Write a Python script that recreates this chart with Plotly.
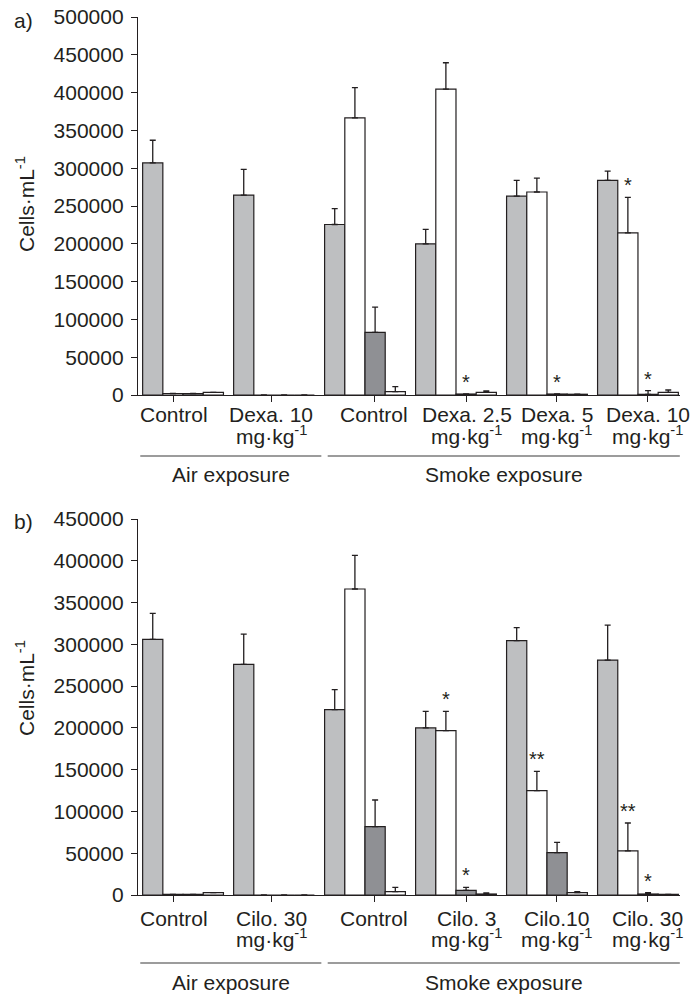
import plotly.graph_objects as go

# ---------------- data ----------------
groups_a = ["Control", "Dexa. 10", "Control", "Dexa. 2.5", "Dexa. 5", "Dexa. 10"]
groups_b = ["Control", "Cilo. 30", "Control", "Cilo. 3", "Cilo.10", "Cilo. 30"]
unit_line = ["", "mg·kg<sup>-1</sup>", "", "mg·kg<sup>-1</sup>", "mg·kg<sup>-1</sup>", "mg·kg<sup>-1</sup>"]
exposures = ["Air exposure", "Smoke exposure"]

series_names = ["Macrophages", "Neutrophils", "Lymphocytes", "Eosinophils"]
series_colors = ["#bebfc1", "#ffffff", "#8f9094", "#ffffff"]

# panel a (dexamethasone)
a_macro = [307000, 264500, 225500, 200000, 263000, 284000]
a_macro_err = [30000, 34000, 21000, 19000, 21000, 12000]
a_neut = [2000, 0, 366500, 404500, 268500, 214500]
a_neut_err = [0, 0, 40000, 35000, 18500, 47000]
a_lymph = [2000, 0, 82800, 1300, 1300, 900]
a_lymph_err = [0, 0, 33500, 0, 0, 4800]
a_eos = [3500, 0, 4400, 3500, 1000, 3500]
a_eos_err = [0, 0, 6600, 1800, 0, 3100]
a_neut_sig = ["", "", "", "", "", "*"]
a_lymph_sig = ["", "", "", "*", "*", "*"]

# panel b (cilomilast)
b_macro = [306000, 276000, 221800, 199900, 304400, 281200]
b_macro_err = [31000, 36300, 23900, 19900, 15500, 41900]
b_neut = [800, 0, 366200, 196700, 124900, 52700]
b_neut_err = [0, 0, 40300, 23100, 23100, 33500]
b_lymph = [800, 0, 81800, 5600, 50700, 1200]
b_lymph_err = [0, 0, 31900, 3600, 12300, 1600]
b_eos = [2800, 0, 4000, 1200, 2800, 800]
b_eos_err = [0, 0, 5200, 1200, 1200, 0]
b_neut_sig = ["", "", "", "*", "**", "**"]
b_lymph_sig = ["", "", "", "*", "", "*"]

y_max_a, y_step = 500000, 50000
y_max_b = 450000

# ---------------- layout helpers ----------------
W, H = 691, 995
INK = "#231f20"
FONT = "Liberation Sans, Arial, sans-serif"
FS = 21
MID = 0.35 * FS
BW = 0.222                      # bar width (x units)
label_shift = [-0.10, -0.03, 0.10, 0.12, 0.11, 0.11]
air_span = [-0.47, 1.52]
smoke_span = [1.59, 5.46]


def fy(p):
    return 1 - p / H


panels = [
    dict(groups=groups_a, vals=[a_macro, a_neut, a_lymph, a_eos],
         errs=[a_macro_err, a_neut_err, a_lymph_err, a_eos_err],
         sig={1: a_neut_sig, 2: a_lymph_sig}, ymax=y_max_a,
         line1=422, line2=442, sep=456, grp=482,
         title_y=204, tag="a)", tag_y=20.5),
    dict(groups=groups_b, vals=[b_macro, b_neut, b_lymph, b_eos],
         errs=[b_macro_err, b_neut_err, b_lymph_err, b_eos_err],
         sig={1: b_neut_sig, 2: b_lymph_sig}, ymax=y_max_b,
         line1=926, line2=945, sep=963, grp=990,
         title_y=688, tag="b)", tag_y=521),
]

fig = go.Figure()
annotations = []
shapes = []
tfont = dict(size=FS, color=INK, family=FONT)

for k, P in enumerate(panels):
    xa = "x" if k == 0 else "x2"
    ya = "y" if k == 0 else "y2"
    n = len(P["groups"])
    for i in range(4):
        xs = [g + (i - 1.5) * BW for g in range(n)]
        fig.add_trace(go.Bar(
            x=xs, y=P["vals"][i], width=BW, name=series_names[i],
            xaxis=xa, yaxis=ya, showlegend=False,
            marker=dict(color=series_colors[i], line=dict(color=INK, width=1.2)),
            error_y=dict(type="data", symmetric=False, array=P["errs"][i],
                         arrayminus=[0] * n, color=INK, thickness=1.3, width=3),
        ))
        if i in P["sig"]:
            for g in range(n):
                s = P["sig"][i][g]
                if s:
                    annotations.append(dict(
                        x=xs[g], y=P["vals"][i][g] + P["errs"][i][g],
                        xref=xa, yref=ya, text=s, showarrow=False,
                        yanchor="middle", yshift=12, borderpad=0,
                        font=dict(size=20, color=INK, family=FONT)))
    # category labels
    for g in range(n):
        xl = g + label_shift[g]
        annotations.append(dict(x=xl, y=fy(P["line1"] - MID), xref=xa, yref="paper",
                                text=P["groups"][g], showarrow=False, yanchor="middle",
                                borderpad=0, font=tfont))
        if unit_line[g]:
            annotations.append(dict(x=xl, y=fy(P["line2"] - MID), xref=xa, yref="paper",
                                    text=unit_line[g], showarrow=False, yanchor="middle",
                                    borderpad=0, font=tfont))
    # exposure groups
    for span, name in zip([air_span, smoke_span], exposures):
        shapes.append(dict(type="line", xref=xa, yref="paper",
                           x0=span[0], x1=span[1], y0=fy(P["sep"]), y1=fy(P["sep"]),
                           line=dict(color="#3a3a3a", width=1.2)))
        annotations.append(dict(x=(span[0] + span[1]) / 2, y=fy(P["grp"] - MID),
                                xref=xa, yref="paper", text=name, showarrow=False,
                                yanchor="middle", borderpad=0, font=tfont))
    # y title and panel tag
    annotations.append(dict(x=25 / W, y=fy(P["title_y"]), xref="paper", yref="paper",
                            text="Cells·mL<sup>-1</sup>", textangle=-90, showarrow=False,
                            xanchor="center", yanchor="middle", font=tfont))
    annotations.append(dict(x=23.5 / W, y=fy(P["tag_y"]), xref="paper", yref="paper",
                            text=P["tag"], showarrow=False, xanchor="center", yanchor="middle",
                            font=tfont))

x_dom = [138 / W, 680 / W]
x_common = dict(domain=x_dom, range=[-0.495, 5.462], showline=True, linecolor=INK,
                linewidth=1.3, ticks="outside", ticklen=6, tickwidth=1.3, tickcolor=INK,
                tickvals=[g + s for g, s in enumerate(label_shift)], showticklabels=False,
                showgrid=False, zeroline=False, fixedrange=True, automargin=False)
y_common = dict(showline=True, linecolor=INK, linewidth=1.3, ticks="outside", ticklen=6,
                tickwidth=1.3, tickcolor=INK, dtick=y_step, tickformat="d",
                showgrid=False, zeroline=False, ticklabelstandoff=3,
                tickfont=tfont, automargin=False)

fig.update_layout(
    width=W, height=H, margin=dict(l=0, r=0, t=0, b=0, pad=0, autoexpand=False),
    paper_bgcolor="white", plot_bgcolor="white",
    barmode="overlay",
    font=dict(family=FONT, color=INK),
    xaxis=dict(anchor="y", **x_common),
    xaxis2=dict(anchor="y2", **x_common),
    yaxis=dict(anchor="x", domain=[fy(395), fy(17)], range=[0, y_max_a], **y_common),
    yaxis2=dict(anchor="x2", domain=[fy(895), fy(519)], range=[0, y_max_b], **y_common),
    annotations=annotations, shapes=shapes,
)

fig.write_html("out.html")
